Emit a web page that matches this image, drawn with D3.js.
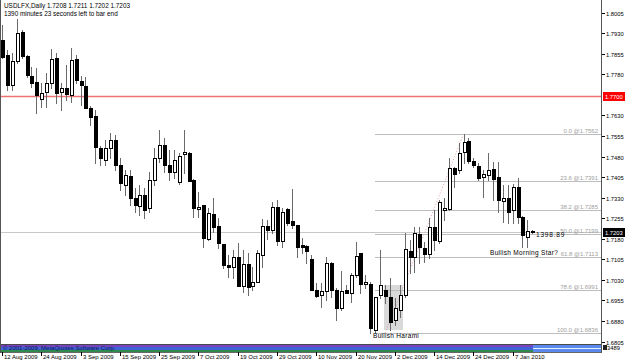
<!DOCTYPE html>
<html>
<head>
<meta charset="utf-8">
<script src="https://cdn.jsdelivr.net/npm/d3@7"></script>
<style>
  body { margin: 0; background: #fff; }
  svg { display: block; }
  text { font-family: "Liberation Sans", Arial, sans-serif; fill: #000; }
</style>
</head>
<body>
<div class="chart"></div>
<script>
// USDLFX daily bars, 12 Aug 2009 .. 13 Jan 2010
var opens = [1.7905,1.7850,1.7741,1.7828,1.7934,1.7847,1.7774,1.7752,1.7690,1.7715,
  1.7748,1.7839,1.7715,1.7730,1.7704,1.7836,1.7755,1.7737,1.7657,1.7628,
  1.7511,1.7467,1.7511,1.7540,1.7449,1.7376,1.7409,1.7328,1.7299,1.7339,
  1.7292,1.7394,1.7474,1.7522,1.7449,1.7423,1.7387,1.7489,1.7493,1.7394,
  1.7288,1.7303,1.7179,1.7270,1.7226,1.7160,1.7084,1.7076,1.7113,1.7007,
  1.7087,1.7007,1.7022,1.7120,1.7226,1.7212,1.7295,1.7171,1.7288,1.7244,
  1.7230,1.7157,1.7153,1.7106,1.6993,1.6974,1.6989,1.7091,1.6993,1.6927,
  1.6993,1.6982,1.7047,1.7128,1.7014,1.7014,1.6847,1.6974,1.6993,1.6967,
  1.6883,1.6920,1.6974,1.7135,1.7113,1.7197,1.7146,1.7124,1.7222,1.7171,
  1.7285,1.7288,1.7438,1.7431,1.7496,1.7536,1.7463,1.7445,1.7405,1.7412,
  1.7434,1.7405,1.7317,1.7328,1.7285,1.7368,1.7259,1.7186,1.7208];
var highs = [1.7960,1.7869,1.7858,1.7982,1.7942,1.7850,1.7806,1.7803,1.7748,1.7785,
  1.7872,1.7858,1.7748,1.7814,1.7876,1.7850,1.7774,1.7770,1.7664,1.7650,
  1.7518,1.7540,1.7566,1.7558,1.7474,1.7431,1.7431,1.7365,1.7376,1.7365,
  1.7423,1.7511,1.7577,1.7547,1.7504,1.7504,1.7493,1.7577,1.7496,1.7398,
  1.7350,1.7303,1.7292,1.7328,1.7255,1.7160,1.7120,1.7139,1.7164,1.7139,
  1.7128,1.7076,1.7139,1.7252,1.7248,1.7314,1.7321,1.7292,1.7292,1.7361,
  1.7230,1.7182,1.7157,1.7120,1.7018,1.7018,1.7113,1.7095,1.7000,1.7062,
  1.7011,1.7055,1.7168,1.7128,1.7047,1.7022,1.6967,1.7139,1.7011,1.7036,
  1.6963,1.7011,1.7201,1.7175,1.7222,1.7222,1.7168,1.7255,1.7285,1.7321,
  1.7328,1.7474,1.7441,1.7529,1.7562,1.7547,1.7474,1.7456,1.7431,1.7493,
  1.7460,1.7460,1.7376,1.7376,1.7379,1.7401,1.7263,1.7248,1.7211];
var lows = [1.7839,1.7723,1.7723,1.7821,1.7839,1.7770,1.7733,1.7639,1.7660,1.7660,
  1.7730,1.7675,1.7650,1.7686,1.7679,1.7748,1.7668,1.7657,1.7595,1.7456,
  1.7449,1.7449,1.7474,1.7431,1.7358,1.7339,1.7303,1.7277,1.7266,1.7255,
  1.7277,1.7376,1.7460,1.7423,1.7394,1.7401,1.7379,1.7420,1.7390,1.7259,
  1.7259,1.7149,1.7175,1.7204,1.7146,1.7073,1.7040,1.7036,1.7007,1.6985,
  1.6974,1.6993,1.7022,1.7076,1.7179,1.7201,1.7157,1.7149,1.7230,1.7219,
  1.7113,1.7128,1.7091,1.6993,1.6967,1.6930,1.6956,1.6967,1.6883,1.6920,
  1.6982,1.6949,1.7040,1.6982,1.7000,1.6836,1.6839,1.6963,1.6945,1.6847,
  1.6865,1.6894,1.6967,1.7055,1.7058,1.7091,1.7095,1.7109,1.7139,1.7164,
  1.7248,1.7285,1.7368,1.7420,1.7456,1.7456,1.7441,1.7394,1.7332,1.7394,
  1.7321,1.7277,1.7241,1.7237,1.7237,1.7237,1.7149,1.7149,1.7202];
var closes = [1.7843,1.7741,1.7828,1.7931,1.7847,1.7777,1.7748,1.7704,1.7712,1.7748,
  1.7836,1.7712,1.7730,1.7708,1.7832,1.7759,1.7741,1.7657,1.7624,1.7514,
  1.7474,1.7511,1.7540,1.7449,1.7383,1.7412,1.7328,1.7303,1.7339,1.7285,
  1.7394,1.7474,1.7522,1.7449,1.7423,1.7467,1.7482,1.7496,1.7390,1.7292,
  1.7295,1.7182,1.7274,1.7222,1.7164,1.7084,1.7076,1.7113,1.7007,1.7087,
  1.7003,1.7022,1.7128,1.7226,1.7212,1.7295,1.7171,1.7277,1.7237,1.7230,
  1.7149,1.7149,1.7135,1.6993,1.6971,1.6989,1.7091,1.6993,1.6927,1.6989,
  1.6982,1.7047,1.7117,1.7014,1.7022,1.6854,1.6967,1.7011,1.6971,1.6876,
  1.6927,1.6974,1.7142,1.7113,1.7201,1.7149,1.7124,1.7222,1.7175,1.7314,
  1.7292,1.7438,1.7416,1.7493,1.7533,1.7463,1.7449,1.7401,1.7416,1.7431,
  1.7398,1.7321,1.7328,1.7277,1.7368,1.7259,1.7193,1.7208,1.7203];

var dateLabels = ["12 Aug 2009","24 Aug 2009","3 Sep 2009","15 Sep 2009","25 Sep 2009",
  "7 Oct 2009","19 Oct 2009","29 Oct 2009","10 Nov 2009","20 Nov 2009",
  "2 Dec 2009","14 Dec 2009","24 Dec 2009","7 Jan 2010"];
var priceTicks = [1.8005,1.7930,1.7855,1.7780,1.7630,1.7555,1.7480,1.7405,
  1.7330,1.7255,1.7180,1.7105,1.7030,1.6955,1.6880,1.6805];

var fibLevels = [0, 23.6, 38.2, 50, 61.8, 78.6, 100];
var fibHigh = 1.7562, fibLow = 1.6836;
var fibBars = [78, 94];          // low bar, high bar
var fibStartBar = 76;
var haramiBars = [78, 81], haramiPrices = [1.7011, 1.6847];
var redLevel = 1.7700;
var bid = 1.7203;

(function() {
  var width = 625, height = 362,
    plotRight = 601, plotBottom = 344;

  var svg = d3.select(".chart").append("svg")
    .attr("width", width)
    .attr("height", height);

  var x = d3.scaleLinear().domain([0, opens.length - 1]).range([2, 532.3]);
  var y = d3.scaleLinear().domain([1.6796, 1.8051]).range([plotBottom, 0]);
  var px = function(i) { return Math.round(x(i)); };
  var py = function(v) { return Math.round(y(v)); };

  svg.append("rect").attr("width", width).attr("height", height).attr("fill", "#fff");

  // harami box
  svg.append("rect")
    .attr("x", px(haramiBars[0]) - 1)
    .attr("width", px(haramiBars[1]) - px(haramiBars[0]) + 4)
    .attr("y", py(haramiPrices[0]))
    .attr("height", py(haramiPrices[1]) - py(haramiPrices[0]))
    .attr("fill", "#d9d9d9");

  // red level and bid line
  svg.append("line")
    .attr("x1", 1).attr("x2", plotRight)
    .attr("y1", py(redLevel) + 0.5).attr("y2", py(redLevel) + 0.5)
    .attr("stroke", "#ee7070").attr("stroke-width", 1.4);
  svg.append("line")
    .attr("x1", 1).attr("x2", plotRight)
    .attr("y1", py(bid) + 0.5).attr("y2", py(bid) + 0.5)
    .attr("stroke", "#c8c8c8");

  // fibo
  var fib = svg.append("g").attr("class", "fibo");
  fib.append("line")
    .attr("x1", x(fibBars[0])).attr("y1", y(fibLow))
    .attr("x2", x(fibBars[1])).attr("y2", y(fibHigh))
    .attr("stroke", "#e0a0a0").attr("stroke-dasharray", "1,2");
  var fl = fib.selectAll("g").data(fibLevels).enter().append("g");
  var fibPrice = function(d) { return fibHigh - (fibHigh - fibLow) * d / 100; };
  fl.append("line")
    .attr("x1", px(fibStartBar)).attr("x2", plotRight)
    .attr("y1", function(d) { return py(fibPrice(d)) + 0.5; })
    .attr("y2", function(d) { return py(fibPrice(d)) + 0.5; })
    .attr("stroke", "#bdbdbd");
  fl.append("text")
    .attr("x", 598)
    .attr("y", function(d) { return py(fibPrice(d)) - 1; })
    .attr("text-anchor", "end")
    .attr("font-size", 6)
    .style("fill", "#a0a0a0")
    .text(function(d) { return d.toFixed(1) + " @" + fibPrice(d).toFixed(4); });

  // candles
  var bars = d3.range(opens.length);
  var c = svg.append("g").selectAll("g").data(bars).enter().append("g");
  c.append("line")
    .attr("x1", function(i) { return px(i) + 0.5; })
    .attr("x2", function(i) { return px(i) + 0.5; })
    .attr("y1", function(i) { return py(highs[i]); })
    .attr("y2", function(i) { return py(lows[i]) + 1; })
    .attr("stroke", "#6a6a6a");
  c.append("rect")
    .attr("x", function(i) { return px(i) - 0.5; })
    .attr("width", 3)
    .attr("y", function(i) { return py(Math.max(opens[i], closes[i])) + 0.5; })
    .attr("height", function(i) { return Math.max(1, py(Math.min(opens[i], closes[i])) - py(Math.max(opens[i], closes[i]))); })
    .attr("fill", function(i) { return closes[i] >= opens[i] ? "#fff" : "#000"; })
    .attr("stroke", "#000");

  // annotations
  svg.append("text").attr("x", 373).attr("y", 338).attr("font-size", 6.5).attr("letter-spacing", 0.3)
    .text("Bullish Harami");
  svg.append("text").attr("x", 490).attr("y", 255).attr("font-size", 6.5).attr("letter-spacing", 0.3)
    .text("Bullish Morning Star?");
  svg.append("text").attr("x", 536).attr("y", 237).attr("font-size", 6.5).attr("letter-spacing", 0.8)
    .text("1398.89");

  // title
  svg.append("text").attr("x", 4).attr("y", 8).attr("font-size", 6.4)
    .text("USDLFX,Daily  1.7208 1.7211 1.7202 1.7203");
  svg.append("text").attr("x", 4).attr("y", 15.5).attr("font-size", 6.4)
    .text("1390 minutes 23 seconds left to bar end");

  // frame
  svg.append("line").attr("x1", 0.5).attr("x2", 0.5).attr("y1", 0).attr("y2", 353).attr("stroke", "#555");
  svg.append("line").attr("x1", plotRight + 0.5).attr("x2", plotRight + 0.5).attr("y1", 0).attr("y2", 353).attr("stroke", "#555");

  // indicator strip
  var strip = svg.append("g");
  strip.append("rect").attr("x", 1).attr("y", 344).attr("width", plotRight - 1).attr("height", 1).attr("fill", "#4a4a4a");
  strip.append("rect").attr("x", 1).attr("y", 345).attr("width", 532).attr("height", 2).attr("fill", "#7a44c0");
  strip.append("rect").attr("x", 1).attr("y", 347).attr("width", 532).attr("height", 3).attr("fill", "#3f63d6");
  strip.append("rect").attr("x", 1).attr("y", 350).attr("width", 532).attr("height", 2).attr("fill", "#2f8a4c");
  strip.append("rect").attr("x", 533).attr("y", 345).attr("width", plotRight - 533).attr("height", 7).attr("fill", "#5a8aee");
  strip.append("rect").attr("x", 533).attr("y", 348).attr("width", plotRight - 533).attr("height", 1).attr("fill", "#e8eefc");
  strip.append("rect").attr("x", 1).attr("y", 352).attr("width", plotRight - 1).attr("height", 1).attr("fill", "#666");
  strip.append("text").attr("x", 3).attr("y", 350).attr("font-size", 6).style("fill", "#141450")
    .text("© 2001-2009, MetaQuotes Software Corp.");

  // price axis
  var ya = svg.append("g").selectAll("g").data(priceTicks).enter().append("g");
  ya.append("line")
    .attr("x1", plotRight + 1).attr("x2", plotRight + 4)
    .attr("y1", function(d) { return py(d) + 0.5; })
    .attr("y2", function(d) { return py(d) + 0.5; })
    .attr("stroke", "#000");
  ya.append("text")
    .attr("x", 606)
    .attr("y", function(d) { return py(d) + 2.5; })
    .attr("font-size", 5.8)
    .text(function(d) { return d.toFixed(4); });

  [[redLevel, "#ff0000"], [bid, "#000"]].forEach(function(p) {
    svg.append("rect").attr("x", 603).attr("y", py(p[0]) - 4).attr("width", 22).attr("height", 9).attr("fill", p[1]);
    svg.append("text").attr("x", 605).attr("y", py(p[0]) + 2.5).attr("font-size", 5.8).style("fill", "#fff")
      .text(p[0].toFixed(4));
  });
  svg.append("rect").attr("x", 603).attr("y", 345).attr("width", 4).attr("height", 5).attr("fill", "#222");
  svg.append("text").attr("x", 607).attr("y", 350).attr("font-size", 5.8).text("3489");

  // time axis
  var xa = svg.append("g").selectAll("g").data(dateLabels).enter().append("g");
  xa.append("line")
    .attr("x1", function(d, i) { return px(i * 8) + 0.5; })
    .attr("x2", function(d, i) { return px(i * 8) + 0.5; })
    .attr("y1", 352).attr("y2", 356)
    .attr("stroke", "#000");
  xa.append("text")
    .attr("x", function(d, i) { return px(i * 8) + 2; })
    .attr("y", 359)
    .attr("font-size", 6)
    .text(function(d) { return d; });
})();
</script>
</body>
</html>
